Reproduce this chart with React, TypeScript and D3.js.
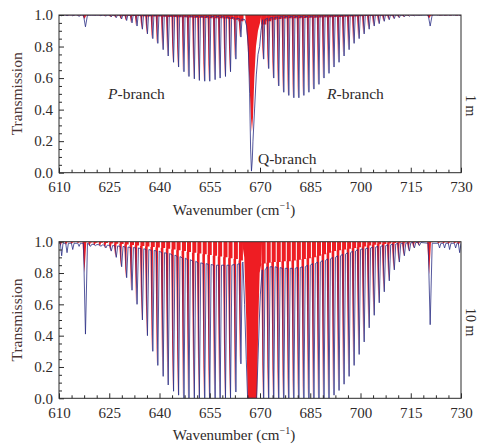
import { useEffect, useRef } from 'react'
import * as d3 from 'd3'

// ---- line centres (cm^-1) ----
const pLines = [665.9, 664.3, 662.8, 661.2, 659.7, 658.1, 656.6, 655.0, 653.5, 651.9, 650.4, 648.8, 647.3, 645.7, 644.2, 642.6, 641.1, 639.5, 638.0, 636.4, 634.9, 633.3, 631.8, 630.2, 628.7, 627.1, 625.6, 624.0, 622.5, 620.9, 619.4]
const rLines = [669.6, 671.1, 672.6, 674.1, 675.6, 677.1, 678.6, 680.1, 681.6, 683.1, 684.6, 686.1, 687.6, 689.1, 690.6, 692.1, 693.6, 695.1, 696.6, 698.1, 699.6, 701.1, 702.6, 704.1, 705.6, 707.1, 708.6, 710.1, 711.6, 713.1, 714.6, 716.1, 717.6]
const weakLines = [610.8, 612.4, 614.1, 616.0, 723.6, 725.1, 726.6, 728.4, 729.6]
const hotLines = [617.9, 720.8]

// ---- 1 m panel ----
const topPDepth = [0.88, 0.86, 0.72, 0.64, 0.61, 0.6, 0.59, 0.58, 0.58, 0.585, 0.595, 0.61, 0.64, 0.67, 0.7, 0.74, 0.78, 0.82, 0.85, 0.88, 0.91, 0.93, 0.95, 0.965, 0.975, 0.983, 0.988, 0.992, 0.995, 0.997, 0.998]
const topPBase = [0.97, 0.975, 0.98, 0.985, 0.988, 0.99, 0.99, 0.99, 0.99, 0.99, 0.991, 0.992, 0.993, 0.994, 0.995, 0.995, 0.996, 0.996, 0.997, 0.997, 0.998, 0.998, 0.998, 0.999, 0.999, 0.999, 0.999, 0.999, 0.999, 0.999, 0.999]
const topPRed = [0.95, 0.96, 0.97, 0.975, 0.978, 0.98, 0.98, 0.98, 0.981, 0.982, 0.983, 0.984, 0.985, 0.986, 0.987, 0.988, 0.989, 0.99, 0.99, 0.991, 0.992, 0.993, 0.994, 0.995, 0.996, 0.997, 0.997, 0.998, 0.998, 0.998, 0.998]
const topRDepth = [0.8, 0.72, 0.66, 0.6, 0.55, 0.51, 0.49, 0.475, 0.475, 0.49, 0.51, 0.53, 0.56, 0.6, 0.63, 0.67, 0.7, 0.74, 0.78, 0.82, 0.85, 0.88, 0.91, 0.93, 0.945, 0.96, 0.97, 0.977, 0.983, 0.988, 0.992, 0.995, 0.997]
const topRBase = [0.95, 0.97, 0.98, 0.985, 0.988, 0.99, 0.99, 0.99, 0.99, 0.99, 0.991, 0.992, 0.993, 0.994, 0.995, 0.995, 0.996, 0.996, 0.997, 0.997, 0.998, 0.998, 0.998, 0.999, 0.999, 0.999, 0.999, 0.999, 0.999, 0.999, 0.999, 0.999, 0.999]
const topRRed = [0.92, 0.94, 0.96, 0.97, 0.975, 0.978, 0.98, 0.98, 0.98, 0.981, 0.982, 0.983, 0.984, 0.985, 0.986, 0.987, 0.988, 0.989, 0.99, 0.991, 0.992, 0.993, 0.994, 0.995, 0.996, 0.997, 0.997, 0.998, 0.998, 0.998, 0.998, 0.999, 0.999]
const topWeakDepth = [0.995, 0.995, 0.995, 0.99, 0.998, 0.998, 0.998, 0.998, 0.998]
const topHotDepth = [0.925, 0.93]
const topHotRed = [0.975, 0.98]
const qTopBlue = [[665.5, 0.97], [666.0, 0.93], [666.5, 0.8], [666.9, 0.5], [667.2, 0.15], [667.45, 0.01], [667.7, 0.08], [667.9, 0.2], [668.4, 0.41], [668.9, 0.62], [669.4, 0.75], [669.9, 0.8], [670.3, 0.9]]
const qTopRed = [[665.6, 1], [666.2, 0.85], [666.8, 0.6], [667.3, 0.35], [667.6, 0.26], [667.9, 0.35], [668.3, 0.6], [668.8, 0.8], [669.4, 0.9], [670.0, 0.95], [670.4, 1]]

// ---- 10 m panel ----
const botPDepth = [0.5, 0.22, 0.04, 0, 0, 0, 0, 0, 0, 0, 0, 0, 0, 0.02, 0.045, 0.085, 0.14, 0.21, 0.3, 0.4, 0.5, 0.6, 0.69, 0.77, 0.84, 0.9, 0.94, 0.96, 0.97, 0.975, 0.97]
const botPBase = [0.88, 0.86, 0.855, 0.85, 0.85, 0.85, 0.85, 0.855, 0.86, 0.865, 0.875, 0.885, 0.895, 0.905, 0.915, 0.925, 0.93, 0.94, 0.945, 0.95, 0.955, 0.96, 0.963, 0.966, 0.97, 0.973, 0.976, 0.978, 0.98, 0.982, 0.984]
const botPRed = [0.87, 0.88, 0.89, 0.895, 0.9, 0.905, 0.91, 0.915, 0.92, 0.925, 0.93, 0.935, 0.94, 0.945, 0.95, 0.955, 0.96, 0.963, 0.966, 0.97, 0.973, 0.976, 0.979, 0.982, 0.985, 0.987, 0.989, 0.991, 0.993, 0.994, 0.995]
const botRDepth = [0, 0, 0, 0, 0, 0, 0, 0, 0, 0, 0, 0, 0, 0, 0, 0.02, 0.05, 0.09, 0.14, 0.21, 0.28, 0.36, 0.45, 0.53, 0.61, 0.68, 0.75, 0.82, 0.87, 0.91, 0.94, 0.96, 0.975]
const botRBase = [0.75, 0.82, 0.84, 0.84, 0.835, 0.83, 0.83, 0.83, 0.835, 0.84, 0.85, 0.86, 0.87, 0.88, 0.89, 0.9, 0.91, 0.92, 0.93, 0.94, 0.95, 0.955, 0.96, 0.965, 0.97, 0.975, 0.98, 0.985, 0.99, 0.99, 0.993, 0.995, 0.995]
const botRRed = [0.86, 0.86, 0.865, 0.87, 0.87, 0.875, 0.875, 0.88, 0.885, 0.89, 0.895, 0.9, 0.91, 0.92, 0.93, 0.94, 0.945, 0.95, 0.955, 0.96, 0.965, 0.97, 0.975, 0.98, 0.983, 0.986, 0.989, 0.991, 0.993, 0.995, 0.996, 0.997, 0.998]
const botWeakDepth = [0.91, 0.93, 0.95, 0.97, 0.96, 0.96, 0.95, 0.96, 0.93]
const botHotDepth = [0.41, 0.47]
const botHotRed = [0.8, 0.79]
const qBotBlue = [[664.9, 0.87], [665.4, 0.6], [665.9, 0.25], [666.3, 0.0], [669.0, 0.0], [669.4, 0.25], [669.8, 0.5], [670.1, 0.66], [670.5, 0.78]]
const qBotRed = [[664.6, 1], [665.3, 0.9], [665.9, 0.5], [666.3, 0], [669.1, 0], [669.5, 0.5], [669.9, 0.8], [670.4, 0.86], [670.6, 1]]

const xMajor = [610, 625, 640, 655, 670, 685, 700, 715, 730]
const yMajor = [0, 0.2, 0.4, 0.6, 0.8, 1.0]

const BLUE = '#2b2e85'
const RED = '#ee1d23'
const FONT = "'Liberation Serif', 'Times New Roman', serif"

type Line = { c: number; depth: number; base: number; red: number; redDepth: number; hw: number }

export default function App() {
  const ref = useRef<SVGSVGElement>(null)

  useEffect(() => {
    const svg = d3.select(ref.current)
    svg.selectAll('*').remove()

    const x = d3.scaleLinear().domain([610, 730]).range([59, 461])

    const panel = (
      y0: number, y1: number, id: string,
      pDepth: number[], pBase: number[], pRed: number[],
      rDepth: number[], rBase: number[], rRed: number[],
      weakDepth: number[], hotDepth: number[], hotRed: number[],
      qBlue: number[][], qRed: number[][],
      hw: number, rw: number, edge: number
    ) => {
      const y = d3.scaleLinear().domain([0, 1]).range([y1, y0])
      const qLo = qBlue[0][0]
      const qHi = qBlue[qBlue.length - 1][0]

      const lines: Line[] = []
      pLines.forEach((c, i) => lines.push({ c, depth: pDepth[i], base: pBase[i], red: pRed[i], redDepth: pDepth[i], hw }))
      rLines.forEach((c, i) => lines.push({ c, depth: rDepth[i], base: rBase[i], red: rRed[i], redDepth: rDepth[i], hw }))
      weakLines.forEach((c, i) => lines.push({ c, depth: weakDepth[i], base: edge, red: 0.997, redDepth: 1 - (1 - weakDepth[i]) * 0.3, hw: 0.4 }))
      hotLines.forEach((c, i) => lines.push({ c, depth: hotDepth[i], base: edge, red: 0.997, redDepth: hotRed[i], hw: 0.6 }))
      const shown = lines.filter(l => l.c < qLo || l.c > qHi)

      const g = svg.append('g')
      g.append('clipPath').attr('id', id)
        .append('rect').attr('x', x(610)).attr('y', y0).attr('width', x(730) - x(610)).attr('height', y1 - y0)
      const plot = g.append('g').attr('clip-path', `url(#${id})`)

      // red filled spectrum (from the top down), sitting just left of the blue dips
      const poly = d3.line<number[]>().x(d => x(d[0])).y(d => y(d[1]))
      shown.forEach(l => {
        const w = l.hw === hw ? rw : l.hw + 0.3
        const off = 0.3
        plot.append('path')
          .attr('d', poly([
            [l.c - w, 1], [l.c - w, l.red], [l.c - off - l.hw, l.red],
            [l.c - off, l.redDepth], [l.c - off + l.hw * 0.9, l.red],
            [l.c + w, l.red], [l.c + w, 1]
          ]) + 'Z')
          .attr('fill', RED)
      })
      plot.append('path')
        .attr('d', poly(qRed) + 'Z')
        .attr('fill', RED)

      // blue trace
      const pts: number[][] = [[610, edge]]
      shown.forEach(l => {
        pts.push([l.c - l.hw, l.base], [l.c, l.depth], [l.c + l.hw, l.base])
      })
      qBlue.forEach(p => pts.push(p))
      pts.push([730, edge])
      pts.sort((a, b) => a[0] - b[0])
      plot.append('path')
        .attr('d', poly(pts))
        .attr('fill', 'none')
        .attr('stroke', BLUE)
        .attr('stroke-width', 1)
        .attr('stroke-opacity', 0.8)
        .attr('stroke-linejoin', 'round')

      // frame
      g.append('rect')
        .attr('x', x(610)).attr('y', y0).attr('width', x(730) - x(610)).attr('height', y1 - y0)
        .attr('fill', 'none').attr('stroke', '#2a2a2a').attr('stroke-width', 1)

      const xMinor = d3.range(610, 730.01, 3.75).filter(v => !xMajor.includes(v))
      const yMinor = d3.range(0, 1.001, 0.05).filter(v => !yMajor.some(m => Math.abs(m - v) < 1e-6))

      const style = (sel: d3.Selection<SVGGElement, unknown, null, undefined>) => {
        sel.select('.domain').remove()
        sel.selectAll('line').attr('stroke', '#2a2a2a')
        sel.selectAll('text').attr('font-family', FONT).attr('font-size', 15).attr('fill', '#2f2a2a')
      }

      g.append('g').attr('transform', `translate(0,${y1})`)
        .call(d3.axisBottom(x).tickValues(xMajor).tickSize(-5).tickPadding(9).tickFormat(d3.format('d')))
        .call(style)
      g.append('g').attr('transform', `translate(0,${y1})`)
        .call(d3.axisBottom(x).tickValues(xMinor).tickSize(-3).tickFormat(() => ''))
        .call(style)
      g.append('g').attr('transform', `translate(${x(610)},0)`)
        .call(d3.axisLeft(y).tickValues(yMajor).tickSize(-5).tickPadding(6).tickFormat(d3.format('.1f')))
        .call(style)
      g.append('g').attr('transform', `translate(${x(610)},0)`)
        .call(d3.axisLeft(y).tickValues(yMinor).tickSize(-3).tickFormat(() => ''))
        .call(style)

      // axis titles
      g.append('text')
        .attr('transform', `translate(22,${(y0 + y1) / 2}) rotate(-90)`)
        .attr('text-anchor', 'middle')
        .attr('font-family', FONT).attr('font-size', 15.5).attr('fill', '#4a3434')
        .text('Transmission')
      const xt = g.append('text')
        .attr('x', 234).attr('y', y1 + 42)
        .attr('text-anchor', 'middle')
        .attr('font-family', FONT).attr('font-size', 15).attr('fill', '#2f2a2a')
      xt.append('tspan').text('Wavenumber (cm')
      xt.append('tspan').attr('dy', -6).attr('font-size', 10).text('\u22121')
      xt.append('tspan').attr('dy', 6).text(')')
      return { y }
    }

    const top = panel(15, 172.7, 'clip-top',
      topPDepth, topPBase, topPRed, topRDepth, topRBase, topRRed,
      topWeakDepth, topHotDepth, topHotRed, qTopBlue, qTopRed, 0.33, 0.78, 1.0)
    panel(241.7, 398.3, 'clip-bot',
      botPDepth, botPBase, botPRed, botRDepth, botRBase, botRRed,
      botWeakDepth, botHotDepth, botHotRed, qBotBlue, qBotRed, 0.42, 0.6, 0.99)

    const branch = (tx: number, ty: number, letter: string) => {
      const t = svg.append('text').attr('x', tx).attr('y', ty)
        .attr('font-family', FONT).attr('font-size', 15.5).attr('fill', '#2f2a2a')
      t.append('tspan').attr('font-style', 'italic').text(letter)
      t.append('tspan').text('-branch')
    }
    branch(108, top.y(0.47), 'P')
    branch(327, top.y(0.47), 'R')
    svg.append('text').attr('x', 258).attr('y', 164)
      .attr('font-family', FONT).attr('font-size', 15.5).attr('fill', '#2f2a2a')
      .text('Q-branch')

    // path-length labels at the right edge
    svg.append('text').attr('transform', 'translate(466,95) rotate(90)')
      .attr('font-family', FONT).attr('font-size', 14).attr('fill', '#2f2a2a').text('1 m')
    svg.append('text').attr('transform', 'translate(466,308) rotate(90)')
      .attr('font-family', FONT).attr('font-size', 14).attr('fill', '#2f2a2a').text('10 m')
  }, [])

  return (
    <svg ref={ref} width={480} height={445}
      style={{ position: 'absolute', left: 0, top: 0, background: '#fff' }} />
  )
}
